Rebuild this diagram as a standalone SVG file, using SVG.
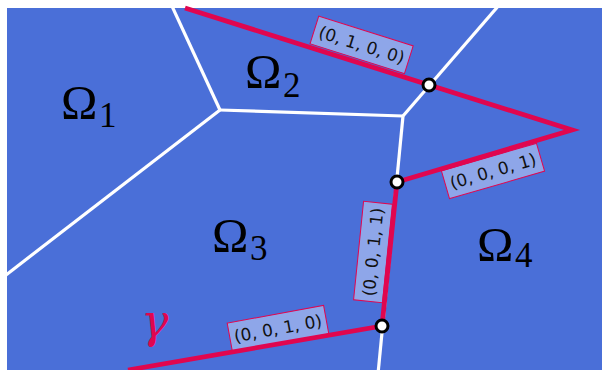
<svg xmlns="http://www.w3.org/2000/svg" width="602" height="370" viewBox="0 0 602 370">
  <defs>
    <style>
      .bg { fill: #4a6fd8; }
      .edge { stroke: #ffffff; stroke-width: 3.2; fill: none; stroke-linecap: butt; }
      .curve { stroke: #e0064f; stroke-width: 4.8; fill: none; stroke-linejoin: miter; stroke-miterlimit: 20; }
      .box { fill: #8ea6e9; stroke: #e0064f; stroke-width: 1; }
      .lbl { font-family: "DejaVu Sans", "Liberation Sans", sans-serif; font-size: 17px; fill: #111111; text-anchor: middle; }
      .omega { font-family: "Liberation Serif", "DejaVu Serif", serif; font-size: 49px; fill: #000000; }
      .sub { font-family: "Liberation Serif", "DejaVu Serif", serif; font-size: 35px; fill: #000000; }
      .gamma { font-family: "DejaVu Serif", "Liberation Serif", serif; font-style: italic; font-size: 46px; fill: #e0064f; }
      .pt { fill: #ffffff; stroke: #000000; stroke-width: 3; }
    </style>
    <clipPath id="clip">
      <rect x="7" y="8" width="595" height="362"/>
    </clipPath>
  </defs>

  <rect class="bg" x="7" y="8" width="595" height="362"/>

  <g id="edges" clip-path="url(#clip)">
    <path class="edge" d="M171,4 L220,110"/>
    <path class="edge" d="M220,110 L2,278"/>
    <path class="edge" d="M220,110 L403,116"/>
    <path class="edge" d="M403,116 L500,4"/>
    <path class="edge" d="M403,116 L378,374"/>
  </g>

  <g id="regions">
    <g id="omega1"><text class="omega" x="61" y="119">Ω</text><text class="sub" x="99" y="127">1</text></g>
    <g id="omega2"><text class="omega" x="245" y="88">Ω</text><text class="sub" x="283" y="97">2</text></g>
    <g id="omega3"><text class="omega" x="212" y="252">Ω</text><text class="sub" x="250" y="260">3</text></g>
    <g id="omega4"><text class="omega" x="477" y="261">Ω</text><text class="sub" x="515" y="267">4</text></g>
  </g>

  <g id="connectors">
    <g id="label-0100" transform="translate(361.6,44.8) rotate(17.5)">
      <rect class="box" x="-49.5" y="-14.5" width="99" height="29"/>
      <text class="lbl" x="0" y="6">(0, 1, 0, 0)</text>
    </g>
    <g id="label-0001" transform="translate(493,171) rotate(-16.2)">
      <rect class="box" x="-49.5" y="-14.5" width="99" height="29"/>
      <text class="lbl" x="0" y="6">(0, 0, 0, 1)</text>
    </g>
    <g id="label-0011" transform="translate(373,252) rotate(-84.2)">
      <rect class="box" x="-49.5" y="-14.5" width="99" height="29"/>
      <text class="lbl" x="0" y="6">(0, 0, 1, 1)</text>
    </g>
    <g id="label-0010" transform="translate(278,328.5) rotate(-10.4)">
      <rect class="box" x="-49" y="-14.5" width="98" height="29"/>
      <text class="lbl" x="0" y="6">(0, 0, 1, 0)</text>
    </g>
    <path id="gamma-curve" class="curve" d="M128,370 L382,326 L397,182 L572,130 L185,8"/>
  </g>

  <g id="points">
    <circle class="pt" cx="429" cy="85" r="6"/>
    <circle class="pt" cx="397" cy="182" r="6"/>
    <circle class="pt" cx="382" cy="326" r="6"/>
  </g>

  <g id="gamma-label">
    <text class="gamma" x="141" y="337">γ</text>
  </g>
</svg>
